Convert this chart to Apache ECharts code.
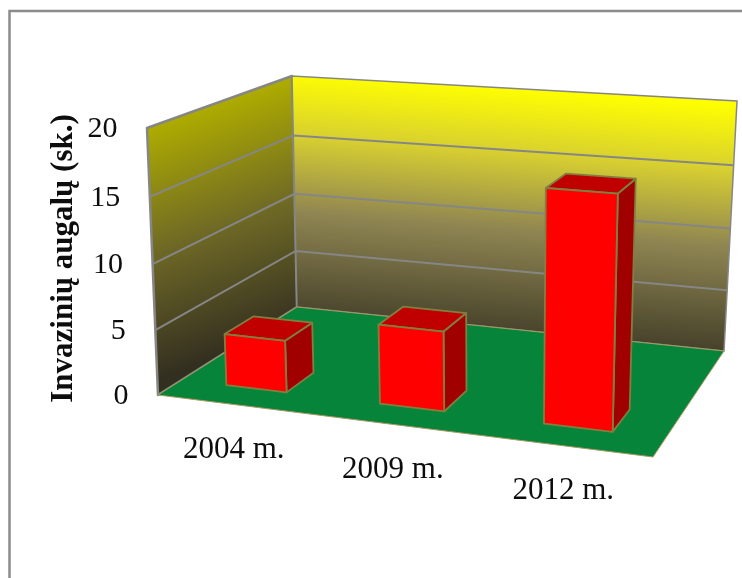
<!DOCTYPE html>
<html>
<head>
<meta charset="utf-8">
<style>html,body{margin:0;padding:0;background:#fff}#chart{width:742px;height:578px}</style>
<script src="https://cdn.jsdelivr.net/npm/echarts@6/dist/echarts.min.js"></script>
</head>
<body>
<div id="chart"></div>
<script>
// Chart data
const categories = ['2004 m.', '2009 m.', '2012 m.'];
const plantCounts = [4, 6, 17];
const yTicks = [0, 5, 10, 15, 20];
const yAxisTitle = 'Invazinių augalų (sk.)';

// Corners of the oblique box: floor and ceiling planes, listed front-left,
// front-right, back-right, back-left.
const floorQuad = [[158, 395], [653, 457], [724, 351], [297, 307]];
const ceilQuad = [[147, 128], [661.5, 165], [737, 101], [292, 76]];
const heightWarp = 1.04;   // foreshortening along the vertical edges
const barRatio = 0.4;      // bar width as a share of the category band
const barDepth = [0.152, 0.35];

// Unit square to quadrilateral perspective mapping.
function quadMapping(q) {
  const [p0, p1, p2, p3] = q;
  const dx1 = p1[0] - p2[0], dy1 = p1[1] - p2[1];
  const dx2 = p3[0] - p2[0], dy2 = p3[1] - p2[1];
  const sx = p0[0] - p1[0] + p2[0] - p3[0];
  const sy = p0[1] - p1[1] + p2[1] - p3[1];
  const den = dx1 * dy2 - dx2 * dy1;
  const g = (sx * dy2 - dx2 * sy) / den;
  const h = (dx1 * sy - sx * dy1) / den;
  const a = p1[0] - p0[0] + g * p1[0], b = p3[0] - p0[0] + h * p3[0];
  const d = p1[1] - p0[1] + g * p1[1], e = p3[1] - p0[1] + h * p3[1];
  return (u, v) => {
    const w = g * u + h * v + 1;
    return [(a * u + b * v + p0[0]) / w, (d * u + e * v + p0[1]) / w];
  };
}
const onFloor = quadMapping(floorQuad);
const onCeil = quadMapping(ceilQuad);

// u runs along the categories, v into the depth, t up the value axis; all 0..1.
function project(u, v, t) {
  const s = t / (t + heightWarp * (1 - t));
  const a = onFloor(u, v), b = onCeil(u, v);
  return [a[0] + (b[0] - a[0]) * s, a[1] + (b[1] - a[1]) * s];
}

// Turns a data pair into box coordinates through the hidden cartesian axes.
function toBox(params, api, cat, val) {
  const rect = params.coordSys;
  const pt = api.coord([cat, val]);
  return [(pt[0] - rect.x) / rect.width, (rect.y + rect.height - pt[1]) / rect.height];
}

const poly = (points, style) => ({ type: 'polygon', shape: { points }, style });
const grad = (x, y, x2, y2, stops) => ({
  type: 'linear', x, y, x2, y2, global: true,
  colorStops: stops.map(([offset, color]) => ({ offset, color }))
});

const wallEdge = '#868686';

function renderShell() {
  const c = project;
  return {
    type: 'group',
    children: [
      poly([c(0, 0, 0), c(0, 1, 0), c(0, 1, 1), c(0, 0, 1)], {
        fill: grad(219, 102, 300, 328, [[0, '#aeac00'], [0.5, '#6e6826'], [1, '#332f20']]),
        stroke: wallEdge, lineWidth: 2.5, lineJoin: 'round'
      }),
      poly([c(0, 1, 0), c(1, 1, 0), c(1, 1, 1), c(0, 1, 1)], {
        fill: grad(520, 88, 500, 345, [[0, '#ffff00'], [0.25, '#d8d030'], [0.55, '#8f8552'], [1, '#3e3a26']]),
        stroke: wallEdge, lineWidth: 1.5
      }),
      poly([c(0, 0, 0), c(1, 0, 0), c(1, 1, 0), c(0, 1, 0)], {
        fill: '#06853a', stroke: '#a89a62', lineWidth: 1
      })
    ]
  };
}

function renderGridLine(params, api) {
  const t = toBox(params, api, 0, api.value(0))[1];
  const pts = [project(0, 0, t), project(0, 1, t), project(1, 1, t)];
  return { type: 'polyline', shape: { points: pts }, style: { fill: null, stroke: wallEdge, lineWidth: 2 } };
}

function renderBar(params, api) {
  const cat = api.value(0);
  const [uc, t] = toBox(params, api, cat, api.value(1));
  const half = api.size([1, 0])[0] / params.coordSys.width * barRatio / 2;
  const u0 = uc - half, u1 = uc + half;
  const [v0, v1] = barDepth;
  const edge = { stroke: '#7f8040', lineWidth: 1.8, lineJoin: 'round' };
  return {
    type: 'group',
    children: [
      poly([project(u1, v0, 0), project(u1, v1, 0), project(u1, v1, t), project(u1, v0, t)], { fill: '#a00000', ...edge }),
      poly([project(u0, v0, t), project(u1, v0, t), project(u1, v1, t), project(u0, v1, t)], { fill: '#c00000', ...edge }),
      poly([project(u0, v0, 0), project(u1, v0, 0), project(u1, v0, t), project(u0, v0, t)], { fill: '#ff0000', ...edge })
    ]
  };
}

const serif = '"Liberation Serif"';
const inkColor = '#0d0d0d';

function renderYTick(params, api) {
  const t = toBox(params, api, 0, api.value(0))[1];
  const p = project(0, 0, t);
  return {
    type: 'text',
    style: {
      text: String(api.value(0)), fontFamily: serif, fontSize: 30, fill: inkColor,
      x: p[0] - 29.5, y: p[1] + 1, align: 'right', verticalAlign: 'middle'
    }
  };
}

function renderCategoryLabel(params, api) {
  const cat = api.value(0);
  const u = toBox(params, api, cat, 0)[0];
  const p = project(u, 0, 0);
  return {
    type: 'text',
    style: {
      text: categories[cat], fontFamily: serif, fontSize: 31, fill: inkColor,
      x: p[0], y: p[1] + 45, align: 'center', verticalAlign: 'middle'
    }
  };
}

const barData = categories.map((_, i) => [i, plantCounts[i]]);
const tickData = yTicks.map(v => [v]);
const tickLines = yTicks.filter(v => v > 0 && v < yTicks[yTicks.length - 1]).map(v => [v]);

const customBase = { type: 'custom', coordinateSystem: 'cartesian2d', silent: true, animation: false, clip: false };

const option = {
  animation: false,
  backgroundColor: '#fff',
  grid: { left: 100, right: 100, top: 100, bottom: 100 },
  xAxis: { type: 'category', data: categories, show: false },
  yAxis: { type: 'value', min: 0, max: 20, interval: 5, show: false },
  graphic: [
    {
      type: 'polyline', silent: true, z: 0,
      shape: { points: [[9.5, 578], [9.5, 11], [742, 11]] },
      style: { fill: null, stroke: '#8c8c8c', lineWidth: 2.5 }
    },
    {
      type: 'text', silent: true, x: 64, y: 258.5, rotation: Math.PI / 2,
      style: {
        text: yAxisTitle, fontFamily: serif, fontWeight: 'bold', fontSize: 31,
        fill: inkColor, align: 'center', verticalAlign: 'middle'
      }
    }
  ],
  series: [
    { ...customBase, name: 'shell', z: 1, data: [[0]], renderItem: renderShell },
    { ...customBase, name: 'gridlines', z: 2, data: tickLines, encode: { y: 0 }, renderItem: renderGridLine },
    { ...customBase, name: 'Invaziniai augalai', z: 3, data: barData, encode: { x: 0, y: 1 }, renderItem: renderBar },
    { ...customBase, name: 'ticks', z: 4, data: tickData, encode: { y: 0 }, renderItem: renderYTick },
    { ...customBase, name: 'categories', z: 4, data: categories.map((_, i) => [i]), encode: { x: 0 }, renderItem: renderCategoryLabel }
  ]
};

echarts.init(document.getElementById('chart'), null, { renderer: 'canvas' }).setOption(option);
</script>
</body>
</html>
